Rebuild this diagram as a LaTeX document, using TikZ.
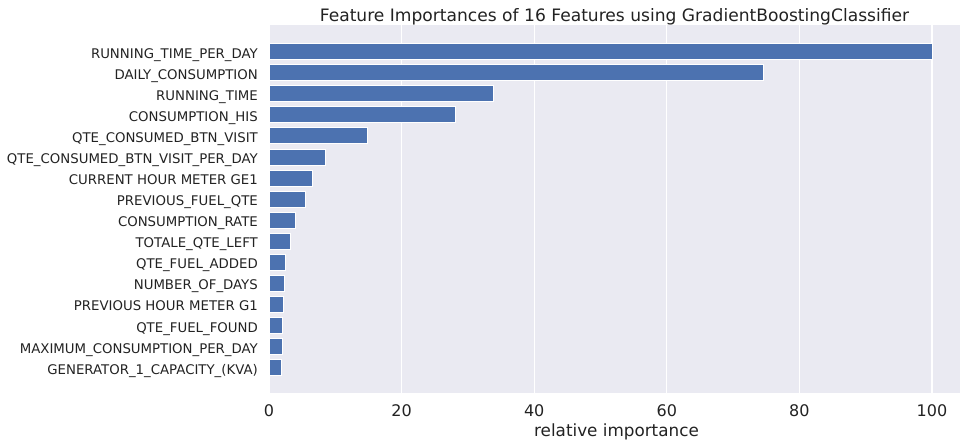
\documentclass[tikz,border=0pt]{standalone}
\usepackage{fontspec}
\setmainfont{DejaVu Sans}
\definecolor{panelgray}{HTML}{EAEAF2}
\definecolor{barblue}{HTML}{4C72B0}
\definecolor{txt}{HTML}{222222}
\begin{document}
\begin{tikzpicture}[x=1pt,y=-1pt,
  ylab/.style={anchor=base east, inner sep=0pt, font=\fontsize{13.3}{15}\selectfont, text=txt},
  xtick/.style={anchor=base, inner sep=0pt, font=\fontsize{16}{18}\selectfont, text=txt},
  axlabel/.style={anchor=base, inner sep=0pt, font=\fontsize{16.8}{19}\selectfont, text=txt},
  titlestyle/.style={anchor=base, inner sep=0pt, font=\fontsize{17.1}{19}\selectfont, text=txt},
  hbar/.style={fill=barblue, draw=white, line width=0.7pt},
  gridline/.style={draw=white, line width=1.2pt}]
\useasboundingbox (0,0) rectangle (960,444);
\fill[panelgray] (269,25) rectangle (960,393);
\foreach \v in {0,20,...,100}{
  \draw[gridline] ({269+6.63*\v},25) -- ({269+6.63*\v},393);
  \node[xtick] (tick\v) at ({269+6.63*\v},416.5) {\v};
}
\foreach [count=\i] \name/\val in {
  {RUNNING\_TIME\_PER\_DAY}/100,
  {DAILY\_CONSUMPTION}/74.5,
  {RUNNING\_TIME}/33.8,
  {CONSUMPTION\_HIS}/28.1,
  {QTE\_CONSUMED\_BTN\_VISIT}/14.8,
  {QTE\_CONSUMED\_BTN\_VISIT\_PER\_DAY}/8.55,
  {CURRENT HOUR METER GE1}/6.6,
  {PREVIOUS\_FUEL\_QTE}/5.5,
  {CONSUMPTION\_RATE}/4.0,
  {TOTALE\_QTE\_LEFT}/3.17,
  {QTE\_FUEL\_ADDED}/2.5,
  {NUMBER\_OF\_DAYS}/2.26,
  {PREVIOUS HOUR METER G1}/2.16,
  {QTE\_FUEL\_FOUND}/2.05,
  {MAXIMUM\_CONSUMPTION\_PER\_DAY}/2.05,
  {GENERATOR\_1\_CAPACITY\_(KVA)}/1.8}{
  \pgfmathsetmacro\yc{51.5+(\i-1)*21.07}
  \draw[hbar] (269,\yc-8) rectangle ({269+6.63*\val},\yc+8);
  \node[ylab] (lab\i) at (258,\yc+6.6) {\name};
}
\node[titlestyle] (title) at (614.5,22) {Feature Importances of 16 Features using GradientBoostingClassifier};
\node[axlabel] (xlab) at (616.5,436.7) {relative importance};
\end{tikzpicture}
\end{document}
